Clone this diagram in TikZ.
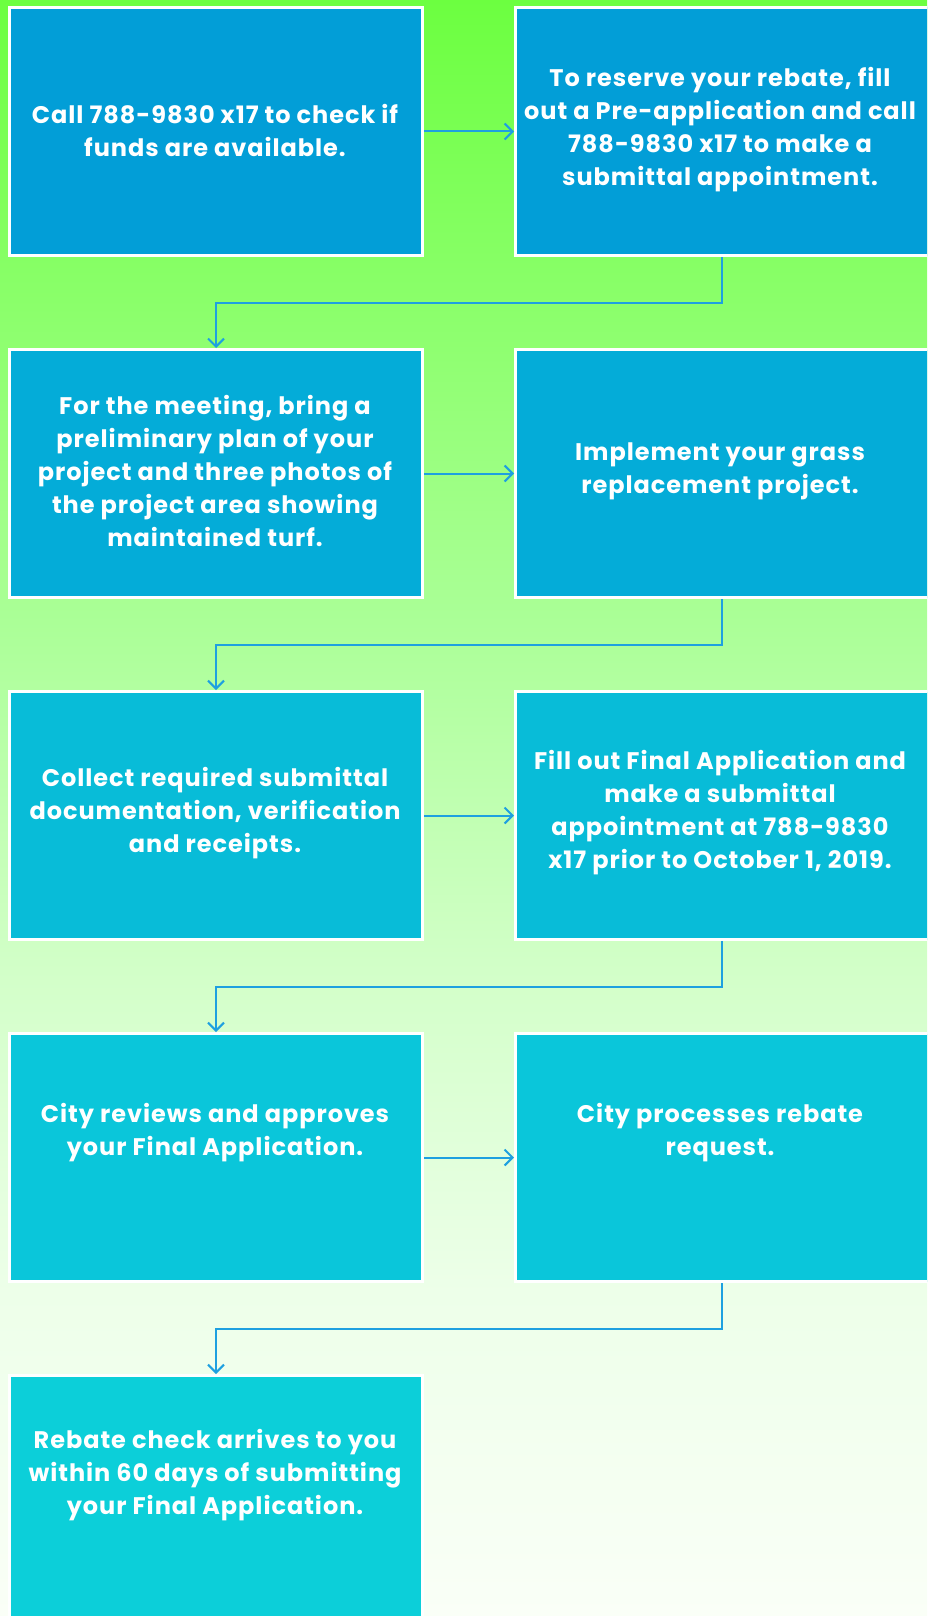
\documentclass[tikz,border=0pt]{standalone}
\usepackage{fontspec}
\setmainfont{Poppins}[LetterSpace=4]
\usetikzlibrary{arrows.meta}
\definecolor{bg0}{RGB}{108,255,64}
\definecolor{bg1}{RGB}{170,255,150}
\definecolor{bg2}{RGB}{210,255,200}
\definecolor{bg3}{RGB}{237,255,233}
\definecolor{bg4}{RGB}{250,255,247}
\definecolor{r1}{RGB}{2,158,215}
\definecolor{r2}{RGB}{4,172,216}
\definecolor{r3}{RGB}{8,188,216}
\definecolor{r4}{RGB}{10,198,218}
\definecolor{r5}{RGB}{12,207,217}
\definecolor{conn}{RGB}{30,160,224}
\pgfdeclareverticalshading{bgshade}{100bp}{color(0bp)=(bg4); color(25bp)=(bg4); color(35bp)=(bg3); color(45bp)=(bg2); color(56bp)=(bg1); color(75bp)=(bg0); color(100bp)=(bg0)}
\tikzset{
  box/.style={draw=white, line width=3pt, rectangle, inner sep=0pt, minimum width=413pt, minimum height=248pt, anchor=north west},
  txt/.style={text=white, align=center, font=\fontsize{24}{33}\selectfont\bfseries},
  arr/.style={draw=conn, line width=2pt, -{Straight Barb[length=8pt,width=16pt,line width=2pt]}},
}
\begin{document}
\begin{tikzpicture}[x=1pt,y=-1pt]
\useasboundingbox (0,0) rectangle (927,1616);
\clip (0,0) rectangle (927,1616);
\shade[shading=bgshade] (0,0) rectangle (927,1616);
% boxes
\node[box, fill=r1] (a1) at (8,6) {};
\node[box, fill=r1] (b1) at (514,6) {};
\node[box, fill=r2] (a2) at (8,348) {};
\node[box, fill=r2] (b2) at (514,348) {};
\node[box, fill=r3] (a3) at (8,690) {};
\node[box, fill=r3] (b3) at (514,690) {};
\node[box, fill=r4] (a4) at (8,1032) {};
\node[box, fill=r4] (b4) at (514,1032) {};
\node[box, fill=r5] (a5) at (8,1374) {};
% texts
\node[txt] (ta1) at (215,130) {Call 788-9830 x17 to check if\\funds are available.};
\node[txt] (tb1) at (720,130) {To reserve your rebate, fill\\out a Pre-application and call\\788-9830 x17 to make a\\submittal appointment.};
\node[txt] (ta2) at (215,471) {For the meeting, bring a\\preliminary plan of your\\project and three photos of\\the project area showing\\maintained turf.};
\node[txt] (tb2) at (720,471) {Implement your grass\\replacement project.};
\node[txt] (ta3) at (215,813) {Collect required submittal\\documentation, verification\\and receipts.};
\node[txt] (tb3) at (720,813) {Fill out Final Application and\\make a submittal\\appointment at 788-9830\\x17 prior to October 1, 2019.};
\node[txt] (ta4) at (215,1133) {City reviews and approves\\your Final Application.};
\node[txt] (tb4) at (720,1133) {City processes rebate\\request.};
\node[txt] (ta5) at (215,1475) {Rebate check arrives to you\\within 60 days of submitting\\your Final Application.};
% connectors
\draw[arr] (a1.east) -- (b1.west);
\draw[arr] (a2.east) -- (b2.west);
\draw[arr] (a3.east) -- (b3.west);
\draw[arr] (a4.east) -- (b4.west);
\draw[arr] (b1.south) -- ++(0,46) -| (a2.north);
\draw[arr] (b2.south) -- ++(0,46) -| (a3.north);
\draw[arr] (b3.south) -- ++(0,46) -| (a4.north);
\draw[arr] (b4.south) -- ++(0,46) -| (a5.north);
\end{tikzpicture}
\end{document}
